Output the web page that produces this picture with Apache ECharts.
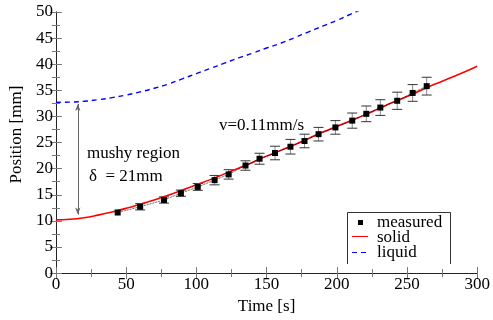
<!DOCTYPE html>
<html>
<head>
<meta charset="utf-8">
<script src="https://cdn.jsdelivr.net/npm/echarts@6/dist/echarts.min.js"></script>
<style>
  html, body { margin: 0; padding: 0; background: #fff; }
  #chart { width: 493px; height: 320px; }
</style>
</head>
<body>
<div id="chart"></div>
<script>
// measured front positions with error bars
const measuredTime = [44, 60, 77, 89, 101, 113, 123, 135, 145, 156, 167, 177, 187, 199, 211, 221, 231, 243, 254, 264];
const measuredPos = [11.6, 12.7, 14.0, 15.3, 16.5, 17.8, 18.9, 20.6, 21.9, 23.0, 24.2, 25.3, 26.6, 27.9, 29.2, 30.5, 31.7, 33.0, 34.5, 35.8];
const measuredErr = [0, 0.6, 0.6, 0.6, 0.65, 0.9, 0.9, 0.9, 1.05, 1.3, 1.4, 1.3, 1.3, 1.3, 1.45, 1.5, 1.5, 1.65, 1.6, 1.7];

// simulated solidus front
const solidTime = [0, 10, 20, 30, 40, 50, 60, 70, 80, 90, 100, 110, 120, 130, 140, 150, 160, 170, 180, 190, 200, 210, 220, 230, 240, 250, 260, 270, 280, 290, 300];
const solidPos = [10.2, 10.3, 10.6, 11.1, 11.7, 12.4, 13.2, 14.0, 14.9, 15.9, 16.9, 17.9, 19.0, 20.1, 21.2, 22.4, 23.5, 24.6, 25.8, 27.0, 28.1, 29.2, 30.3, 31.5, 32.7, 33.8, 35.0, 36.2, 37.3, 38.4, 39.6];

// simulated liquidus front
const liquidTime = [0, 10, 20, 30, 40, 50, 60, 70, 80, 90, 100, 110, 120, 130, 140, 150, 160, 170, 180, 190, 200, 210, 220];
const liquidPos = [32.7, 32.75, 32.9, 33.2, 33.6, 34.1, 34.7, 35.4, 36.2, 37.2, 38.2, 39.2, 40.2, 41.2, 42.1, 43.1, 44.0, 45.1, 46.2, 47.3, 48.4, 49.6, 50.8];

const xTicks = [0, 50, 100, 150, 200, 250, 300];
const yTicks = [0, 5, 10, 15, 20, 25, 30, 35, 40, 45, 50];

const chart = echarts.init(document.getElementById('chart'));
const serif = '"Liberation Serif", "DejaVu Serif", serif';

const zip = (a, b) => a.map((v, i) => [v, b[i]]);

// ticks point inwards on all four sides
const tickSide = {
  axisLine: { show: true, lineStyle: { color: '#222', width: 1 } },
  axisTick: { show: true, inside: true, length: 6, lineStyle: { color: '#777' } },
  minorTick: { show: true, splitNumber: 2, length: 4, lineStyle: { color: '#777' } },
  splitLine: { show: false }
};

const option = {
  backgroundColor: '#fff',
  animation: false,
  grid: { left: 55, right: 15, top: 12, bottom: 34 },
  xAxis: [
    {
      type: 'value', min: xTicks[0], max: xTicks[xTicks.length - 1], interval: 50,
      name: 'Time [s]', nameLocation: 'middle', nameGap: 16,
      nameTextStyle: { fontFamily: serif, fontSize: 17, color: '#000' },
      axisLabel: { fontFamily: serif, fontSize: 17, color: '#000', margin: 3 },
      ...tickSide
    },
    {
      type: 'value', position: 'top', min: 0, max: 300, interval: 50,
      axisLabel: { show: false },
      ...tickSide
    }
  ],
  yAxis: [
    {
      type: 'value', min: yTicks[0], max: yTicks[yTicks.length - 1], interval: 5,
      name: 'Position [mm]', nameLocation: 'middle', nameGap: 28,
      nameTextStyle: { fontFamily: serif, fontSize: 17, color: '#000', padding: [0, 0, 0, 16] },
      axisLabel: { fontFamily: serif, fontSize: 17, color: '#000', margin: 3 },
      ...tickSide
    },
    {
      type: 'value', position: 'right', min: 0, max: 50, interval: 5,
      axisLabel: { show: false },
      ...tickSide
    }
  ],
  series: [
    {
      name: 'liquid',
      type: 'line',
      data: zip(liquidTime, liquidPos),
      showSymbol: false,
      smooth: true,
      lineStyle: { color: '#0000ff', width: 1.4, type: [5, 4] },
      markLine: {
        silent: true,
        symbol: ['arrow', 'arrow'],
        symbolSize: [4, 7],
        label: { show: false },
        lineStyle: { color: '#666', width: 1, type: 'solid' },
        data: [[{ coord: [15.6, 32.4] }, { coord: [15.6, 11.2] }]]
      }
    },
    {
      name: 'solid',
      type: 'line',
      data: zip(solidTime, solidPos),
      showSymbol: false,
      smooth: true,
      lineStyle: { color: '#ff0000', width: 1.6 }
    },
    {
      name: 'error',
      type: 'custom',
      data: measuredTime.map((t, i) => [t, measuredPos[i] - measuredErr[i], measuredPos[i] + measuredErr[i]]),
      renderItem: function (params, api) {
        const lo = api.coord([api.value(0), api.value(1)]);
        const hi = api.coord([api.value(0), api.value(2)]);
        if (hi[1] === lo[1]) return null;
        const w = 5;
        const style = { stroke: '#333', lineWidth: 1 };
        return {
          type: 'group',
          children: [
            { type: 'line', shape: { x1: lo[0], y1: lo[1], x2: hi[0], y2: hi[1] }, style: { stroke: '#888', lineWidth: 1 } },
            { type: 'line', shape: { x1: hi[0] - w, y1: hi[1], x2: hi[0] + w, y2: hi[1] }, style: style },
            { type: 'line', shape: { x1: lo[0] - w, y1: lo[1], x2: lo[0] + w, y2: lo[1] }, style: style }
          ]
        };
      },
      z: 3
    },
    {
      name: 'measured',
      type: 'line',
      data: zip(measuredTime, measuredPos),
      symbol: 'rect',
      symbolSize: 6,
      itemStyle: { color: '#000' },
      lineStyle: { color: '#000', width: 0.8, type: 'dotted' },
      z: 4
    }
  ],
  graphic: [
    { type: 'text', left: 87, top: 145, style: { text: 'mushy region', font: '17px ' + serif, fill: '#000' } },
    { type: 'text', left: 89, top: 168, style: { text: 'δ  = 21mm', font: '17px ' + serif, fill: '#000' } },
    { type: 'text', left: 219, top: 117, style: { text: 'v=0.11mm/s', font: '17px ' + serif, fill: '#000' } },
    // legend box (open at the bottom)
    { type: 'polyline', shape: { points: [[347.5, 264], [347.5, 212.5], [450.5, 212.5], [450.5, 264]] }, style: { stroke: '#333', lineWidth: 1, fill: null } },
    { type: 'rect', shape: { x: 358, y: 220, width: 5, height: 5 }, style: { fill: '#000' } },
    { type: 'line', shape: { x1: 352, y1: 236.5, x2: 368, y2: 236.5 }, style: { stroke: '#ff0000', lineWidth: 1 } },
    { type: 'line', shape: { x1: 352, y1: 252.5, x2: 368, y2: 252.5 }, style: { stroke: '#0000ff', lineWidth: 1, lineDash: [5, 4] } },
    { type: 'text', left: 377, top: 214, style: { text: 'measured', font: '17px ' + serif, fill: '#000' } },
    { type: 'text', left: 377, top: 229, style: { text: 'solid', font: '17px ' + serif, fill: '#000' } },
    { type: 'text', left: 377, top: 244, style: { text: 'liquid', font: '17px ' + serif, fill: '#000' } }
  ]
};

chart.setOption(option);
</script>
</body>
</html>
